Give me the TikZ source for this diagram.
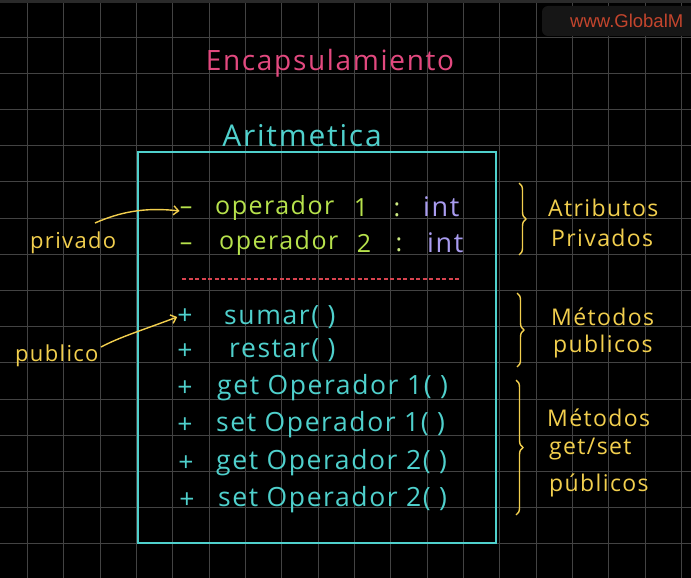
\documentclass[tikz,border=0pt]{standalone}
\usepackage{fontspec}
\setmainfont{Open Sans}[LetterSpace=6]
\newfontfamily\wmfont{Liberation Sans}
\usetikzlibrary{decorations.pathreplacing,arrows.meta}
\definecolor{gridc}{HTML}{434343}
\definecolor{topbar}{HTML}{2A2A2A}
\definecolor{wmbg}{HTML}{161616}
\definecolor{wmtext}{HTML}{C4452D}
\definecolor{pinkc}{HTML}{E2497F}
\definecolor{cyanc}{HTML}{4FD0CC}
\definecolor{greenc}{HTML}{B7E24C}
\definecolor{lavc}{HTML}{A99CF0}
\definecolor{yelc}{HTML}{F2CF4E}
\definecolor{redc}{HTML}{D8434F}
\tikzset{
  gridline/.style={draw=gridc, line width=0.9pt},
  title/.style={text=pinkc, font=\fontsize{28}{30}\selectfont, inner sep=0pt},
  clsname/.style={text=cyanc, font=\fontsize{30}{32}\selectfont, inner sep=0pt},
  attr/.style={text=greenc, font=\fontsize{25}{27}\selectfont, inner sep=0pt},
  typ/.style={text=lavc, font=\fontsize{27}{29}\selectfont, inner sep=0pt},
  meth/.style={text=cyanc, font=\fontsize{26.5}{29}\selectfont, inner sep=0pt},
  note/.style={text=yelc, font=\fontsize{22}{24}\selectfont, inner sep=0pt},
  rnote/.style={text=yelc, font=\fontsize{23}{25}\selectfont, inner sep=0pt},
  arr/.style={draw=yelc, line width=1.4pt, -{Straight Barb[length=5pt,width=9pt]}},
  bracestyle/.style={draw=yelc, line width=1.4pt, decorate, decoration={brace, amplitude=7pt}},
}
\begin{document}
\begin{tikzpicture}[x=1pt,y=-1pt]
\fill[black] (0,0) rectangle (691,578);
\useasboundingbox (0,0) rectangle (691,578);
% grid
\foreach \i in {0,...,18} \draw[gridline] ({27.3+36.35*\i},0) -- ++(0,578);
\foreach \j in {1,...,15} \draw[gridline] (0,{0.8+36.2*\j}) -- ++(691,0);
\fill[topbar] (0,0) rectangle (691,3);
% watermark
\fill[wmbg, rounded corners=6pt] (542,6) rectangle (705,36);
\node[anchor=west, text=wmtext, font=\wmfont\fontsize{18.5}{20}\selectfont, inner sep=0pt] (wm) at (570,21) {www.GlobalM};
% title
\node[title] (title) at (330,63) {Encapsulamiento};
\node[clsname] (cls) at (302,136) {Aritmetica};
% class box
\draw[draw=cyanc, line width=2pt] (137.5,151.5) rectangle (495.8,542.5);
% attributes
\node[attr] (m1) at (186,211) {–};
\node[attr, anchor=west] (op1) at (215,208) {operador};
\node[attr] (n1) at (361,208) {1};
\node[attr, text=greenc!70!white] (c1) at (397,210) {:};
\node[typ, anchor=west] (t1) at (423,207) {int};
\node[attr] (m2) at (186,247) {–};
\node[attr, anchor=west] (op2) at (219,243) {operador};
\node[attr] (n2) at (364,243) {2};
\node[attr, text=greenc!70!white] (c2) at (399,245) {:};
\node[typ, anchor=west] (t2) at (427,243) {int};
% separator
\coordinate (sepL) at (182,279);
\coordinate (sepR) at (460,279);
\draw[draw=redc, line width=1.2pt, dash pattern=on 4pt off 2.5pt] (sepL) -- (sepR);
% methods
\node[meth] (p1) at (185,317) {+};
\node[meth, anchor=west] (s1) at (224,317) {sumar( )};
\node[meth] (p2) at (185,352) {+};
\node[meth, anchor=west] (s2) at (229,350) {restar( )};
\node[meth] (p3) at (185,389) {+};
\node[meth, anchor=west] (s3) at (217,388) {get Operador 1( )};
\node[meth] (p4) at (185,426) {+};
\node[meth, anchor=west] (s4) at (216,425) {set Operador 1( )};
\node[meth] (p5) at (186,464) {+};
\node[meth, anchor=west] (s5) at (216,463) {get Operador 2( )};
\node[meth] (p6) at (187,501) {+};
\node[meth, anchor=west] (s6) at (218,500) {set Operador 2( )};
% left annotations
\node[note, anchor=west] (priv) at (30,243) {privado};
\node[note, anchor=west] (pub) at (15,356) {publico};
\coordinate (privstart) at (95,223);
\coordinate (pubstart) at (101,347);
\draw[arr] (privstart) .. controls (120,212) and (145,207) .. (m1.west);
\draw[arr] (pubstart) .. controls (120,337) and (140,331) .. (p1.west);
% braces
\coordinate (b1t) at (519,183); \coordinate (b1b) at (519,255);
\coordinate (b2t) at (517,293); \coordinate (b2b) at (517,367);
\coordinate (b3t) at (516,380); \coordinate (b3b) at (516,515);
\draw[bracestyle] (b1t) -- (b1b);
\draw[bracestyle] (b2t) -- (b2b);
\draw[bracestyle] (b3t) -- (b3b);
\node[rnote, anchor=west] (ap1) at (548,208) {Atributos};
\node[rnote, anchor=west] (ap2) at (551,238) {Privados};
\node[rnote, anchor=west] (mp1) at (551,317) {Métodos};
\node[rnote, anchor=west] (mp2) at (553,347) {publicos};
\node[rnote, anchor=west] (mg1) at (547,418) {Métodos};
\node[rnote, anchor=west] (mg2) at (549,449) {get/set};
\node[rnote, anchor=west] (mg3) at (549,485) {públicos};
\end{tikzpicture}
\end{document}
